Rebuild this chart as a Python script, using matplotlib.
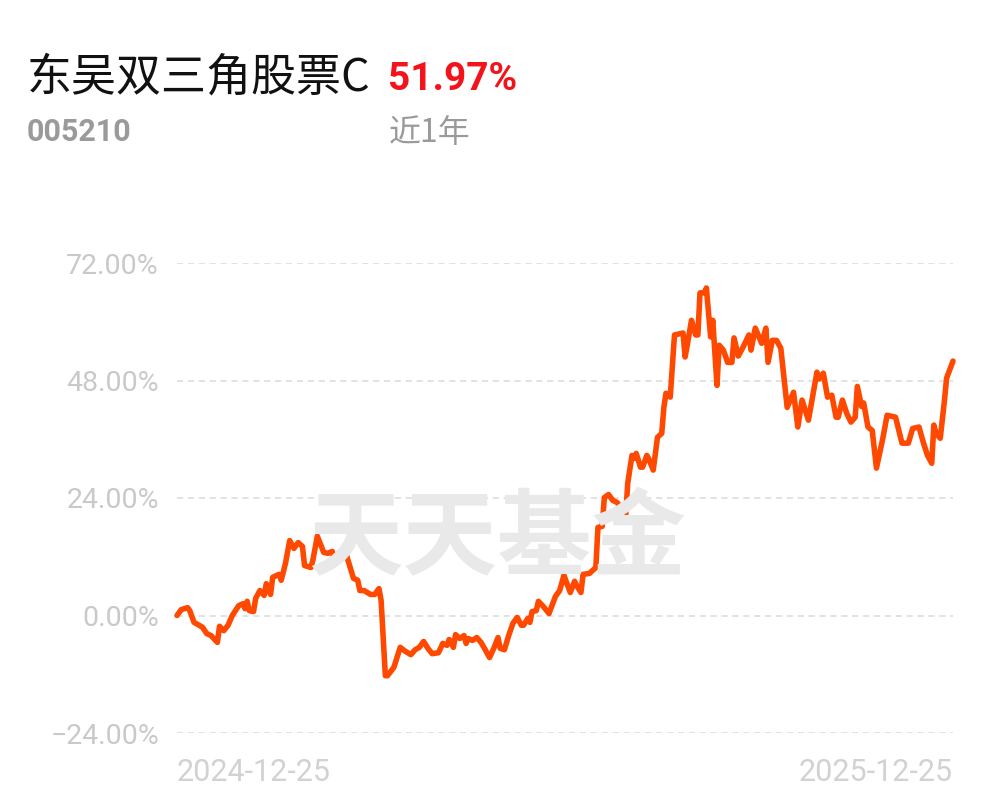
import datetime as dt
import matplotlib
matplotlib.use("Agg")
import matplotlib.pyplot as plt

plt.rcParams['font.family'] = ['Noto Sans CJK SC', 'DejaVu Sans']

# fund info
fund_name = "东吴双三角股票C"
fund_code = "005210"
period_return = "51.97%"
period_label = "近1年"

# days since start date and cumulative return (%)
start_date = dt.date(2024, 12, 25)
end_date = dt.date(2025, 12, 25)
day_offsets = [0, 2, 5, 6, 8, 12, 14, 16, 19, 20, 22, 24, 26, 29, 31, 32, 33, 34, 36, 37,
               39, 41, 42, 44, 45, 48, 49, 51, 53, 55, 57, 59, 60, 63, 64, 66, 69, 71, 73, 74,
               76, 78, 79, 80, 83, 85, 86, 88, 91, 93, 95, 96, 98, 99, 102, 105, 107, 110, 112, 114,
               116, 118, 120, 123, 125, 127, 128, 130, 131, 133, 135, 136, 137, 139, 141, 143, 145, 147, 149, 151,
               152, 154, 156, 158, 160, 162, 163, 165, 166, 167, 169, 170, 172, 175, 176, 178, 180, 182, 183, 185,
               187, 188, 190, 191, 194, 197, 198, 200, 201, 203, 205, 207, 209, 211, 212, 214, 215, 216, 218, 219,
               221, 222, 224, 226, 228, 229, 230, 232, 234, 238, 239, 240, 242, 244, 245, 246, 248, 249, 251, 252,
               254, 255, 257, 259, 261, 262, 264, 266, 269, 270, 272, 275, 277, 278, 280, 282, 284, 287, 290, 292,
               294, 297, 301, 302, 304, 306, 308, 310, 311, 313, 315, 317, 319, 320, 322, 323, 325, 327, 329,
               332, 334, 338, 341, 344, 346, 349, 351, 353, 355, 356, 357, 359, 361, 362, 365]
returns = [0.0, 1.2, 1.6, 1.0, -1.4, -2.4, -3.7, -4.1, -5.5, -2.2, -3.1, -2.0, 0.0, 2.0, 2.4, 1.4, 2.9, 1.0, 0.8, 3.5,
           5.1, 4.1, 6.5, 4.3, 7.8, 8.4, 7.2, 10.6, 15.3, 13.7, 14.9, 14.1, 10.2, 9.8, 11.5, 16.2, 12.9, 12.7, 13.1, 11.2,
           12.7, 13.3, 14.3, 11.9, 7.6, 7.2, 5.1, 5.1, 4.3, 4.3, 5.5, 3.1, -12.3, -12.3, -10.6, -6.5, -7.2, -8.0, -7.0, -6.5,
           -5.3, -6.7, -7.8, -7.6, -5.7, -6.1, -4.9, -6.5, -3.9, -4.7, -4.1, -5.7, -4.7, -5.1, -4.5, -5.5, -7.0, -8.6, -6.7, -4.5,
           -6.7, -7.0, -4.1, -1.6, -0.4, -2.0, -2.0, -0.6, -1.4, 0.8, 1.0, 2.9, 2.0, 0.4, 1.6, 3.9, 5.1, 8.2, 7.0, 4.7,
           7.0, 6.1, 4.7, 8.4, 8.6, 9.8, 18.0, 18.2, 24.1, 24.7, 23.5, 23.1, 21.9, 20.0, 27.0, 32.7, 32.1, 33.1, 30.3, 30.3,
           32.7, 31.9, 29.7, 36.4, 37.2, 42.5, 45.4, 44.6, 57.3, 57.7, 52.8, 55.2, 60.3, 57.3, 57.3, 65.9, 65.9, 66.9, 56.9, 60.3,
           47.0, 55.2, 54.2, 51.7, 51.7, 56.7, 53.0, 54.6, 57.3, 54.2, 58.7, 55.6, 58.7, 51.7, 56.2, 56.2, 54.6, 42.5, 45.6, 38.5,
           44.0, 39.9, 49.7, 48.3, 49.5, 44.6, 45.0, 40.5, 40.5, 44.0, 41.3, 39.5, 40.5, 46.8, 42.7, 43.4, 38.5, 37.8, 30.1,
           36.2, 40.9, 40.5, 35.2, 35.2, 38.2, 38.5, 35.4, 32.7, 31.1, 38.9, 37.2, 36.2, 44.0, 48.5, 51.97]

y_ticks = [-24, 0, 24, 48, 72]

dates = [start_date + dt.timedelta(days=d) for d in day_offsets]

W, H = 997, 802
fig = plt.figure(figsize=(W / 100, H / 100), dpi=100)
fig.patch.set_facecolor("white")

# plot area in pixels: left 177, right 953, top 263 (72%), bottom 733 (-24%)
ax = fig.add_axes([177 / W, (H - 733) / H, (953 - 177) / W, (733 - 263) / H])
ax.set_facecolor("none")

for v in y_ticks:
    ax.axhline(v, color="#e2e2e2", lw=1.4, dashes=(3.2, 2.4), zorder=1)

ax.plot(dates, returns, color="#ff4800", lw=4.0, solid_joinstyle="round",
        solid_capstyle="round", zorder=3, clip_on=False)

ax.set_xlim(start_date, end_date)
ax.set_ylim(-24, 72)
for s in ax.spines.values():
    s.set_visible(False)

ax.set_yticks(y_ticks)
ax.set_yticklabels([f"{v:.2f}%".replace("-", "\u2212") for v in y_ticks],
                   family=["Roboto", "DejaVu Sans"], fontsize=20.5, color="#c9c9c9")
ax.tick_params(axis="y", length=0, pad=13)

ax.set_xticks([start_date, end_date])
ax.set_xticklabels([start_date.strftime("%Y-%m-%d"), end_date.strftime("%Y-%m-%d")],
                   family="Roboto", fontsize=22, color="#d2d2d2")
ax.tick_params(axis="x", length=0, pad=18)
xl = ax.get_xticklabels()
xl[0].set_ha("left")
xl[1].set_ha("right")

# watermark
fig.text(497 / W, 1 - 541 / H, "天天基金", fontsize=68, fontweight="bold",
         color="#e9e9e9", ha="center", va="center", zorder=0)

# header
fig.text(27 / W, 1 - 78 / H, fund_name, fontsize=32.4, color="#111111",
         ha="left", va="center")
fig.text(388 / W, 1 - 79 / H, period_return, fontsize=28, fontweight="bold",
         family="Roboto", color="#f2131b", ha="left", va="center")
fig.text(27 / W, 1 - 132 / H, fund_code, fontsize=22, fontweight="bold",
         family="Roboto", color="#9a9a9a", ha="left", va="center")
fig.text(389 / W, 1 - 133 / H, period_label, fontsize=23, color="#9a9a9a",
         ha="left", va="center")

fig.savefig("out.png", dpi=100, facecolor="white")
